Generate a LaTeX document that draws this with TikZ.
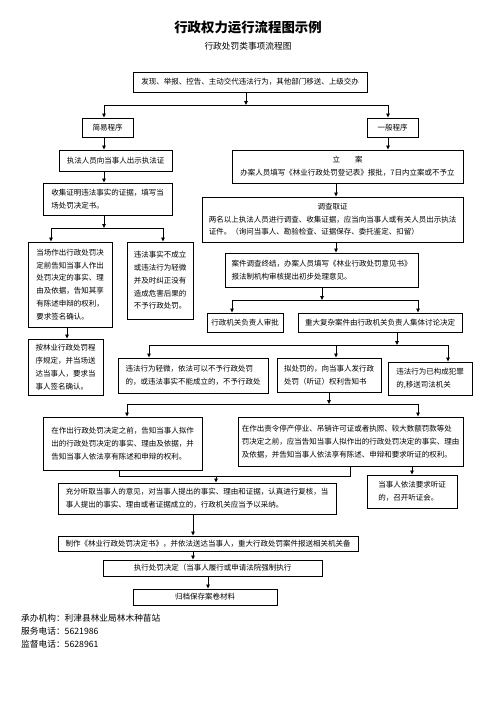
\documentclass[tikz,border=0pt]{standalone}
\usepackage{fontspec}
\newfontfamily\cjk{Noto Sans CJK SC}
\usetikzlibrary{arrows.meta}
\newcommand\boxnode[6]{\node[box, minimum width={(#3-#2)*1pt}, minimum height={(#5-#4)*1pt}] (#1) at ({(#2+#3)/2},{(#4+#5)/2}) {#6};}
\begin{document}
\begin{tikzpicture}[x=1pt,y=-1pt,
  box/.style={draw, line width=1pt, inner sep=3pt, align=left, font=\cjk\fontsize{7.5}{12.8}\selectfont},
  arr/.style={-{Triangle[length=4pt,width=3.6pt]}, line width=0.9pt},
  ln/.style={line width=0.9pt},
  plain/.style={inner sep=0pt, font=\cjk\fontsize{8.7}{10}\selectfont}]
\useasboundingbox (0,0) rectangle (496,702);
\node[plain, font=\cjk\bfseries\fontsize{13.4}{15}\selectfont] (title) at (248,27) {行政权力运行流程图示例};
\node[plain] (sub) at (248,46) {行政处罚类事项流程图};

\boxnode{n1}{133}{367}{72}{92}{发现、举报、控告、主动交代违法行为，其他部门移送、上级交办}
\boxnode{jian}{82}{133}{118}{137}{简易程序}
\boxnode{yiban}{367}{418}{118}{137}{一般程序}
\boxnode{zhifa}{59}{172}{150}{171}{执法人员向当事人出示执法证}
\boxnode{shouji}{43}{172}{183}{215}{收集证明违法事实的证据，填写当\\场处罚决定书。}
\boxnode{dangchang}{28}{112}{242}{327}{当场作出行政处罚决\\定前告知当事人作出\\处罚决定的事实、理\\由及依据，告知其享\\有陈述申辩的权利，\\要求签名确认。}
\boxnode{weifa1}{127}{193}{242}{319}{违法事实不成立\\或违法行为轻微\\并及时纠正没有\\造成危害后果的\\不予行政处罚。}
\boxnode{anlin}{28}{103}{339}{395}{按林业行政处罚程\\序规定，并当场送\\达当事人，要求当\\事人签名确认。}
\node[box, align=center, minimum width=231pt, minimum height=33pt] (lian) at (347.5,166.5) {立\quad\quad 案\\办案人员填写《林业行政处罚登记表》报批，7日内立案或不予立};
\boxnode{diaocha}{202}{463}{197}{242}{\begin{tabular}{@{}l@{}}\multicolumn{1}{@{}c@{}}{调查取证}\\两名以上执法人员进行调查、收集证据，应当向当事人或有关人员出示执法\\证件。（询问当事人、勘验检查、证据保存、委托鉴定、扣留）\end{tabular}}
\boxnode{anjian}{225}{418}{253}{287}{案件调查终结，办案人员填写《林业行政处罚意见书》\\报法制机构审核提出初步处理意见。}
\boxnode{shenpi}{207}{283}{313}{332}{行政机关负责人审批}
\boxnode{zhongda}{298}{462}{313}{332}{重大复杂案件由行政机关负责人集体讨论决定}
\boxnode{qingwei}{118}{268}{358}{393}{违法行为轻微，依法可以不予行政处罚\\的，或违法事实不能成立的，不予行政处}
\boxnode{nichufa}{277}{381}{358}{392}{拟处罚的，向当事人发行政\\处罚（听证）权利告知书}
\boxnode{fanzui}{388}{472}{362}{395}{违法行为已构成犯罪\\的,移送司法机关}
\boxnode{gaozhi1}{43}{202}{417}{470}{在作出行政处罚决定之前，告知当事人拟作\\出的行政处罚决定的事实、理由及依据，并\\告知当事人依法享有陈述和申辩的权利。}
\boxnode{gaozhi2}{238}{463}{417}{466}{在作出责令停产停业、吊销许可证或者执照、较大数额罚款等处\\罚决定之前，应当告知当事人拟作出的行政处罚决定的事实、理由\\及依据，并告知当事人依法享有陈述、申辩和要求听证的权利。}
\boxnode{tingzheng}{367}{457}{475}{508}{当事人依法要求听证\\的，召开听证会。}
\boxnode{chongfen}{58}{336}{483}{514}{充分听取当事人的意见，对当事人提出的事实、理由和证据，认真进行复核，当\\事人提出的事实、理由或者证据成立的，行政机关应当予以采纳。}
\boxnode{zhizuo}{58}{358}{536}{551}{制作《林业行政处罚决定书》，并依法送达当事人，重大行政处罚案件报送相关机关备}
\boxnode{zhixing}{103}{322}{560}{576}{执行处罚决定（当事人履行或申请法院强制执行}
\boxnode{guidang}{133}{277}{589}{605}{归档保存案卷材料}

\node[plain, anchor=west] (f1) at (21,618) {承办机构：利津县林业局林木种苗站};
\node[plain, anchor=west] (f2) at (21,631) {服务电话：5621986};
\node[plain, anchor=west] (f3) at (21,644) {监督电话：5628961};

% coordinates
\coordinate (b1) at (246,105); \coordinate (b1L) at (104,105); \coordinate (b1R) at (388,105);
\coordinate (xL) at (104,0); \coordinate (xA) at (67,0);
\coordinate (b2) at (104,228); \coordinate (b2L) at (51,228); \coordinate (b2R) at (163,228);
\coordinate (xY) at (388,0); \coordinate (xD) at (336,0);
\coordinate (b3) at (322,300); \coordinate (b3L) at (232,300); \coordinate (b3R) at (418,300);
\coordinate (b4) at (397,345); \coordinate (b4L) at (149,345); \coordinate (b4M) at (336,345); \coordinate (b4R) at (448,345);
\coordinate (b5) at (329,404); \coordinate (b5L) at (127,404); \coordinate (b5R) at (418,404);
\coordinate (m1) at (119,476); \coordinate (m2) at (350,476); \coordinate (m3) at (216,476);
\coordinate (xT) at (412,0); \coordinate (xC) at (193,0); \coordinate (xG) at (208,0);

% connectors
\draw[arr] (n1.south -| b1) -- (b1);
\draw[ln] (b1L) -- (b1R);
\draw[arr] (b1L) -- (b1L |- jian.north);
\draw[arr] (b1R) -- (b1R |- yiban.north);
\draw[arr] (jian.south -| xL) -- (zhifa.north -| xL);
\draw[arr] (zhifa.south -| xL) -- (shouji.north -| xL);
\draw[arr] (shouji.south -| xL) -- (b2);
\draw[ln] (b2L) -- (b2R);
\draw[arr] (b2L) -- (b2L |- dangchang.north);
\draw[arr] (b2R) -- (b2R |- weifa1.north);
\draw[arr] (dangchang.south -| xA) -- (anlin.north -| xA);
\draw[arr] (yiban.south -| xY) -- (lian.north -| xY);
\draw[arr] (lian.south -| xD) -- (diaocha.north -| xD);
\draw[arr] (diaocha.south -| xD) -- (anjian.north -| xD);
\draw[arr] (anjian.south -| b3) -- (b3);
\draw[ln] (b3L) -- (b3R);
\draw[arr] (b3L) -- (b3L |- shenpi.north);
\draw[arr] (b3R) -- (b3R |- zhongda.north);
\draw[arr] (zhongda.south -| b4) -- (b4);
\draw[ln] (b4L) -- (b4R);
\draw[arr] (b4L) -- (b4L |- qingwei.north);
\draw[arr] (b4M) -- (b4M |- nichufa.north);
\draw[arr] (b4R) -- (b4R |- fanzui.north);
\draw[arr] (nichufa.south -| b5) -- (b5);
\draw[ln] (b5L) -- (b5R);
\draw[arr] (b5L) -- (b5L |- gaozhi1.north);
\draw[arr] (b5R) -- (b5R |- gaozhi2.north);
\draw[ln] (gaozhi1.south -| m1) -- (m1) -- (m2) -- (gaozhi2.south -| m2);
\draw[arr] (m3) -- (m3 |- chongfen.north);
\draw[arr] (gaozhi2.south -| xT) -- (tingzheng.north -| xT);
\draw[arr] (chongfen.south -| xC) -- (zhizuo.north -| xC);
\draw[arr] (zhizuo.south -| xC) -- (zhixing.north -| xC);
\draw[arr] (zhixing.south -| xG) -- (guidang.north -| xG);
\end{tikzpicture}
\end{document}
